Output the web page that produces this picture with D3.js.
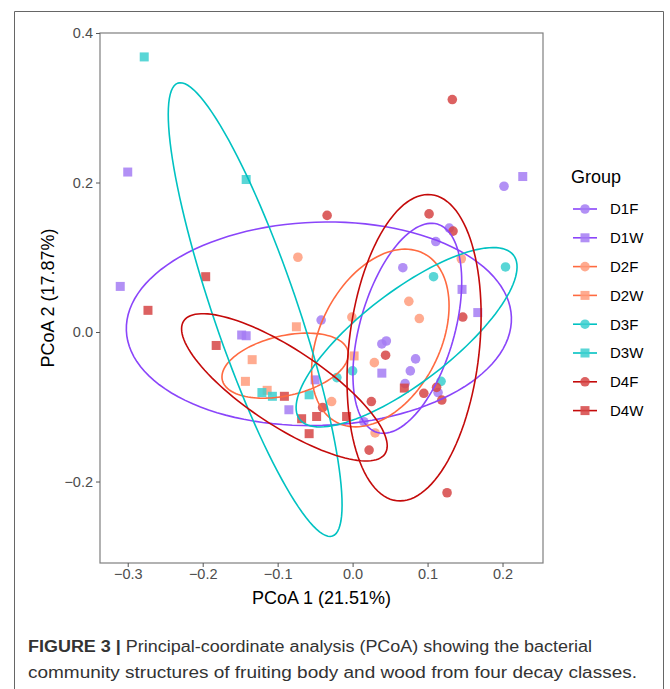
<!DOCTYPE html>
<meta charset="utf-8">
<head>
<style>
  body { margin: 0; background: #fff; }
  svg text { font-family: "Liberation Sans", Arial, sans-serif; }
  .tick text { fill: #4d4d4d; font-size: 14.5px; }
  .tick line { stroke: #555; }
  .caption { font-size: 16px; fill: #333; font-family: "Liberation Sans Narrow", "Liberation Sans", sans-serif; }
</style>
<script src="https://d3js.org/d3.v7.min.js"></script>
</head>
<body>
<div id="chart"></div>
<script>
// group names and the points, [PCoA1, PCoA2]
var groups = ["D1F", "D1W", "D2F", "D2W", "D3F", "D3W", "D4F", "D4W"];

var D1F = [[0.202, 0.195], [0.129, 0.139], [0.111, 0.121], [0.067, 0.086], [-0.042, 0.016],
           [0.045, -0.012], [0.039, -0.016], [0.084, -0.036], [0.077, -0.052], [0.070, -0.069],
           [0.114, -0.081], [0.015, -0.120]];
var D1W = [[0.227, 0.208], [-0.300, 0.214], [-0.310, 0.061], [-0.148, -0.004], [-0.142, -0.005],
           [-0.050, -0.064], [-0.085, -0.104], [0.146, 0.057], [0.167, 0.026], [0.039, -0.055]];
var D2F = [[-0.073, 0.100], [-0.001, 0.020], [0.075, 0.041], [0.089, 0.018], [0.145, 0.098],
           [0.029, -0.041], [-0.028, -0.093], [0.030, -0.135]];
var D2W = [[-0.075, 0.007], [-0.134, -0.037], [-0.143, -0.066], [-0.114, -0.078], [0.002, -0.032]];
var D3F = [[0.204, 0.087], [0.108, 0.074], [0.000, -0.052], [-0.021, -0.061], [0.118, -0.066]];
var D3W = [[-0.278, 0.368], [-0.142, 0.204], [-0.121, -0.081], [-0.107, -0.086], [-0.058, -0.084]];
var D4F = [[0.133, 0.311], [-0.034, 0.156], [0.102, 0.158], [0.134, 0.135], [0.147, 0.020],
           [0.044, -0.031], [0.095, -0.082], [0.112, -0.074], [0.119, -0.091], [0.025, -0.093],
           [-0.040, -0.101], [0.022, -0.158], [0.126, -0.215]];
var D4W = [[-0.273, 0.029], [-0.196, 0.074], [-0.182, -0.018], [-0.091, -0.086], [-0.068, -0.116],
           [-0.048, -0.113], [-0.058, -0.136], [-0.008, -0.113], [0.069, -0.075]];

// 95% ellipses per group: centre, semi-axes and rotation (degrees)
var ellCx    = [0.073, -0.045, 0.037, -0.090, 0.072, -0.130, 0.082, -0.091];
var ellCy    = [0.005, 0.011, -0.008, -0.045, -0.007, 0.030, -0.021, -0.074];
var ellA     = [0.145, 0.257, 0.127, 0.086, 0.180, 0.320, 0.206, 0.161];
var ellB     = [0.063, 0.136, 0.080, 0.040, 0.061, 0.056, 0.087, 0.051];
var ellAngle = [74, 2, 63, 13, 37.6, 108.8, 83.6, -33.5];

var xTicks = [-0.3, -0.2, -0.1, 0.0, 0.1, 0.2];
var yTicks = [-0.2, 0.0, 0.2, 0.4];

var pointData = [D1F, D1W, D2F, D2W, D3F, D3W, D4F, D4W];
var pointColor = ["#a57cf3", "#a57cf3", "#ff9c7c", "#ff9c7c", "#3ccfcf", "#3ccfcf", "#d64545", "#d64545"];
var lineColor  = ["#8a45fa", "#8a45fa", "#ff6a40", "#ff6a40", "#00c2c2", "#00c2c2", "#c40a0a", "#c40a0a"];

var W = 670, H = 689;
var svg = d3.select("#chart").append("svg").attr("width", W).attr("height", H);

// figure frame
svg.append("path")
    .attr("d", "M14.5," + (H + 5) + "V11.5H663.5V" + (H + 5))
    .attr("fill", "none").attr("stroke", "#666").attr("stroke-width", 1);

var x = d3.scaleLinear().domain([-0.337, 0.254]).range([100, 543]);
var y = d3.scaleLinear().domain([-0.309, 0.4]).range([563, 33]);

// panel border
svg.append("rect")
    .attr("x", 100).attr("y", 33).attr("width", 443).attr("height", 530)
    .attr("fill", "none").attr("stroke", "#7f7f7f").attr("stroke-width", 1.2);

var fmt = function (d) { return d3.format(".1f")(d).replace("-", "\u2212"); };

var gx = svg.append("g").attr("transform", "translate(0,563)")
    .call(d3.axisBottom(x).tickValues(xTicks).tickFormat(fmt).tickSize(4).tickPadding(2));
var gy = svg.append("g").attr("transform", "translate(100,0)")
    .call(d3.axisLeft(y).tickValues(yTicks).tickFormat(fmt).tickSize(4).tickPadding(3));
gx.select(".domain").remove();
gy.select(".domain").remove();

// points
pointData.forEach(function (pts, gi) {
    var isSquare = groups[gi].slice(-1) == "W";
    var g = svg.append("g").attr("fill", pointColor[gi]).attr("fill-opacity", 0.85);
    if (isSquare) {
        g.selectAll("rect").data(pts).enter().append("rect")
            .attr("x", function (d) { return x(d[0]) - 4.5; })
            .attr("y", function (d) { return y(d[1]) - 4.5; })
            .attr("width", 9).attr("height", 9);
    } else {
        g.selectAll("circle").data(pts).enter().append("circle")
            .attr("cx", function (d) { return x(d[0]); })
            .attr("cy", function (d) { return y(d[1]); })
            .attr("r", 4.8);
    }
});

// ellipses
var line = d3.line()
    .x(function (d) { return x(d[0]); })
    .y(function (d) { return y(d[1]); })
    .curve(d3.curveLinearClosed);

groups.forEach(function (name, gi) {
    var th = ellAngle[gi] * Math.PI / 180, pts = [];
    for (var k = 0; k < 120; k++) {
        var t = k / 120 * 2 * Math.PI;
        var u = ellA[gi] * Math.cos(t), v = ellB[gi] * Math.sin(t);
        pts.push([ellCx[gi] + u * Math.cos(th) - v * Math.sin(th),
                  ellCy[gi] + u * Math.sin(th) + v * Math.cos(th)]);
    }
    svg.append("path").attr("d", line(pts))
        .attr("fill", "none").attr("stroke", lineColor[gi]).attr("stroke-width", 1.6);
});

// axis titles
svg.append("text").attr("x", 321.5).attr("y", 604).attr("text-anchor", "middle")
    .attr("font-size", 18).attr("fill", "#000").text("PCoA 1 (21.51%)");
svg.append("text").attr("transform", "translate(54,298) rotate(-90)").attr("text-anchor", "middle")
    .attr("font-size", 18).attr("fill", "#000").text("PCoA 2 (17.87%)");

// legend
var leg = svg.append("g");
leg.append("text").attr("x", 571).attr("y", 183).attr("font-size", 18).text("Group");
groups.forEach(function (name, gi) {
    var ly = 209 + gi * 28.8;
    leg.append("line").attr("x1", 573).attr("x2", 597).attr("y1", ly).attr("y2", ly)
        .attr("stroke", lineColor[gi]).attr("stroke-width", 1.6);
    if (name.slice(-1) == "W") {
        leg.append("rect").attr("x", 585 - 4.5).attr("y", ly - 4.5).attr("width", 9).attr("height", 9)
            .attr("fill", pointColor[gi]).attr("fill-opacity", 0.85);
    } else {
        leg.append("circle").attr("cx", 585).attr("cy", ly).attr("r", 4.8)
            .attr("fill", pointColor[gi]).attr("fill-opacity", 0.85);
    }
    leg.append("text").attr("x", 610).attr("y", ly + 5.3).attr("font-size", 15).attr("fill", "#000").text(name);
});

// caption
var c1 = svg.append("text").attr("class", "caption").attr("x", 28).attr("y", 652)
    .attr("textLength", 564).attr("lengthAdjust", "spacingAndGlyphs");
c1.append("tspan").attr("font-weight", "bold").text("FIGURE 3 | ");
c1.append("tspan").text("Principal-coordinate analysis (PCoA) showing the bacterial");
svg.append("text").attr("class", "caption").attr("x", 28).attr("y", 678)
    .attr("textLength", 609).attr("lengthAdjust", "spacingAndGlyphs")
    .text("community structures of fruiting body and wood from four decay classes.");
</script>
</body>
